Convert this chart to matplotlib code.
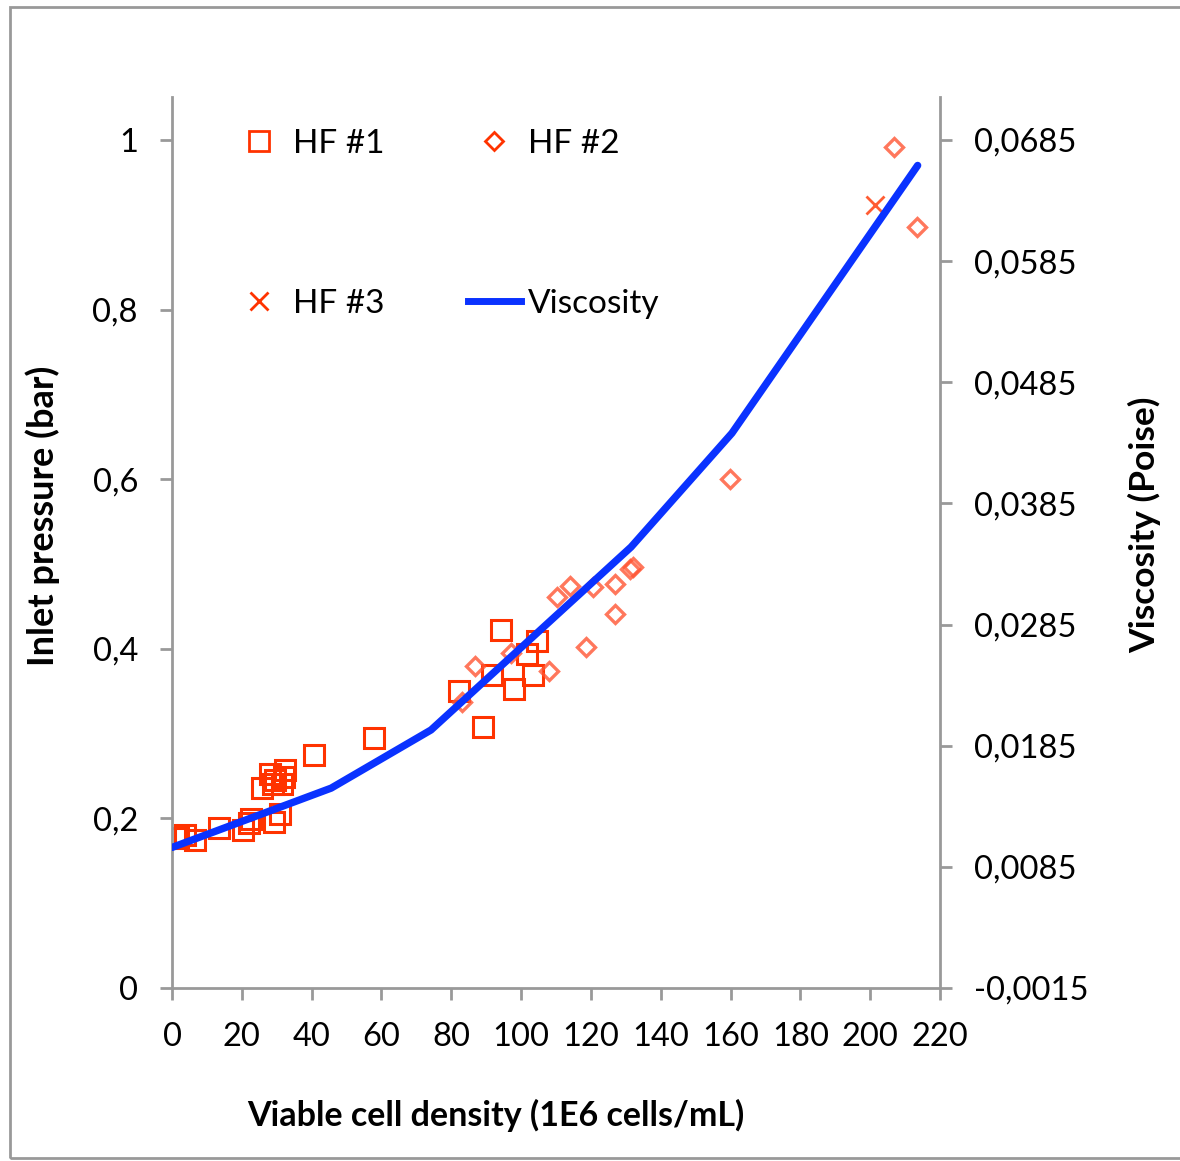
import numpy as np
import matplotlib.pyplot as plt
from matplotlib.patches import Rectangle
from matplotlib.lines import Line2D
from matplotlib.ticker import FixedLocator, FuncFormatter

plt.rcParams['font.family'] = ['Lato', 'DejaVu Sans']

# HF #1 (squares)
hf1_x = [1.7, 3.7, 6.6, 13.5, 20.3, 22.0, 22.6, 29.2, 30.9, 25.8, 28.0, 29.5, 32.5, 32.0,
         29.0, 31.5, 40.7, 57.9, 82.2, 89.1, 91.7, 94.3, 98.0, 101.7, 103.4, 104.6]
hf1_y = [0.177, 0.180, 0.175, 0.189, 0.186, 0.194, 0.199, 0.196, 0.205, 0.236, 0.252, 0.245,
         0.257, 0.249, 0.240, 0.240, 0.275, 0.295, 0.350, 0.308, 0.369, 0.422, 0.353, 0.394,
         0.369, 0.409]

# HF #2 (diamonds)
hf2_x = [83.0, 86.8, 97.1, 108.0, 110.3, 114.0, 120.6, 126.9, 131.2, 132.1, 126.9, 118.6,
         159.9, 206.9, 213.5]
hf2_y = [0.337, 0.380, 0.395, 0.374, 0.461, 0.474, 0.473, 0.476, 0.494, 0.496, 0.441, 0.402,
         0.600, 0.992, 0.897]

# HF #3 (cross)
hf3_x = [201.4]
hf3_y = [0.923]

# Viscosity (right axis)
visc_x = [0, 45.6, 74.2, 131.5, 160.4, 213.6]
visc_y = [0.0101, 0.0150, 0.0198, 0.0349, 0.0443, 0.0664]

x_ticks = list(range(0, 221, 20))
left_ticks = [0, 0.2, 0.4, 0.6, 0.8, 1.0]
right_ticks = [-0.0015, 0.0085, 0.0185, 0.0285, 0.0385, 0.0485, 0.0585, 0.0685]

fig = plt.figure(figsize=(11.8, 11.61), dpi=100)
fig.patches.append(Rectangle((10 / 1180, 3 / 1161), 1.0, 1 - 10 / 1161, transform=fig.transFigure,
                             fill=False, edgecolor='#999999', linewidth=2))

ax = fig.add_axes([172 / 1180, 1 - 988 / 1161, 768 / 1180, 891 / 1161])
ax2 = ax.twinx()

red = '#FF3300'
ax.plot(hf1_x, hf1_y, linestyle='none', marker='s', markersize=14, markerfacecolor='none',
        markeredgecolor=red, markeredgewidth=2.2, label='HF #1')
ax.plot(hf2_x, hf2_y, linestyle='none', marker='D', markersize=9, markerfacecolor='none',
        markeredgecolor='#FF5533', markeredgewidth=2.4, alpha=0.8, label='HF #2')
ax.plot(hf3_x, hf3_y, linestyle='none', marker='x', markersize=13, markeredgecolor=red,
        markeredgewidth=2, alpha=0.8, label='HF #3')
ax2.plot(visc_x, visc_y, color='#0A32FF', linewidth=5.3, solid_capstyle='round', label='Viscosity')

ax.set_xlim(0, 220)
ax.set_ylim(0, 1.0507)
ax2.set_ylim(-0.0015, -0.0015 + 1.0507 * 0.07)

ax.xaxis.set_major_locator(FixedLocator(x_ticks))
ax.yaxis.set_major_locator(FixedLocator(left_ticks))
ax2.yaxis.set_major_locator(FixedLocator(right_ticks))
ax.yaxis.set_major_formatter(FuncFormatter(lambda v, p: ('%g' % round(v, 2)).replace('.', ',')))
ax2.yaxis.set_major_formatter(FuncFormatter(lambda v, p: ('%.4f' % v).replace('.', ',')))

for a in (ax, ax2):
    for s in a.spines.values():
        s.set_visible(False)
ax.spines['left'].set_visible(True)
ax.spines['bottom'].set_visible(True)
ax2.spines['right'].set_visible(True)
for s in (ax.spines['left'], ax.spines['bottom'], ax2.spines['right']):
    s.set_color('#999999')
    s.set_linewidth(2)

ax.tick_params(axis='both', direction='out', length=8.5, width=2, color='#999999',
               labelsize=23.5, pad=16)
ax.tick_params(axis='x', pad=16)
ax2.tick_params(axis='y', direction='out', length=8.5, width=2, color='#999999',
                labelsize=23.5, pad=16)

ax.set_xlabel('Viable cell density (1E6 cells/mL)', fontsize=24.5, fontweight='bold')
ax.set_ylabel('Inlet pressure (bar)', fontsize=26, fontweight='bold')
ax2.set_ylabel('Viscosity (Poise)', fontsize=25.5, fontweight='bold')
ax.xaxis.set_label_coords(0.422, -0.125)
ax.yaxis.set_label_coords(-0.146, 0.53)
ax2.yaxis.set_label_coords(1.245, 0.52)

handles = [
    Line2D([], [], linestyle='none', marker='s', markersize=14, markerfacecolor='none',
           markeredgecolor=red, markeredgewidth=2),
    Line2D([], [], linestyle='none', marker='x', markersize=13, markeredgecolor=red,
           markeredgewidth=2),
    Line2D([], [], linestyle='none', marker='D', markersize=9, markerfacecolor='none',
           markeredgecolor=red, markeredgewidth=2),
    Line2D([], [], color='#0A32FF', linewidth=5),
]
labels = ['HF #1', 'HF #3', 'HF #2', 'Viscosity']
leg = ax2.legend(handles, labels, ncol=2, loc='upper left', bbox_to_anchor=(0.04, 0.998),
                 frameon=False, fontsize=24, labelspacing=3.9, columnspacing=2.5,
                 handlelength=1.6, handletextpad=0.2)

fig.savefig('out.png', dpi=100)
